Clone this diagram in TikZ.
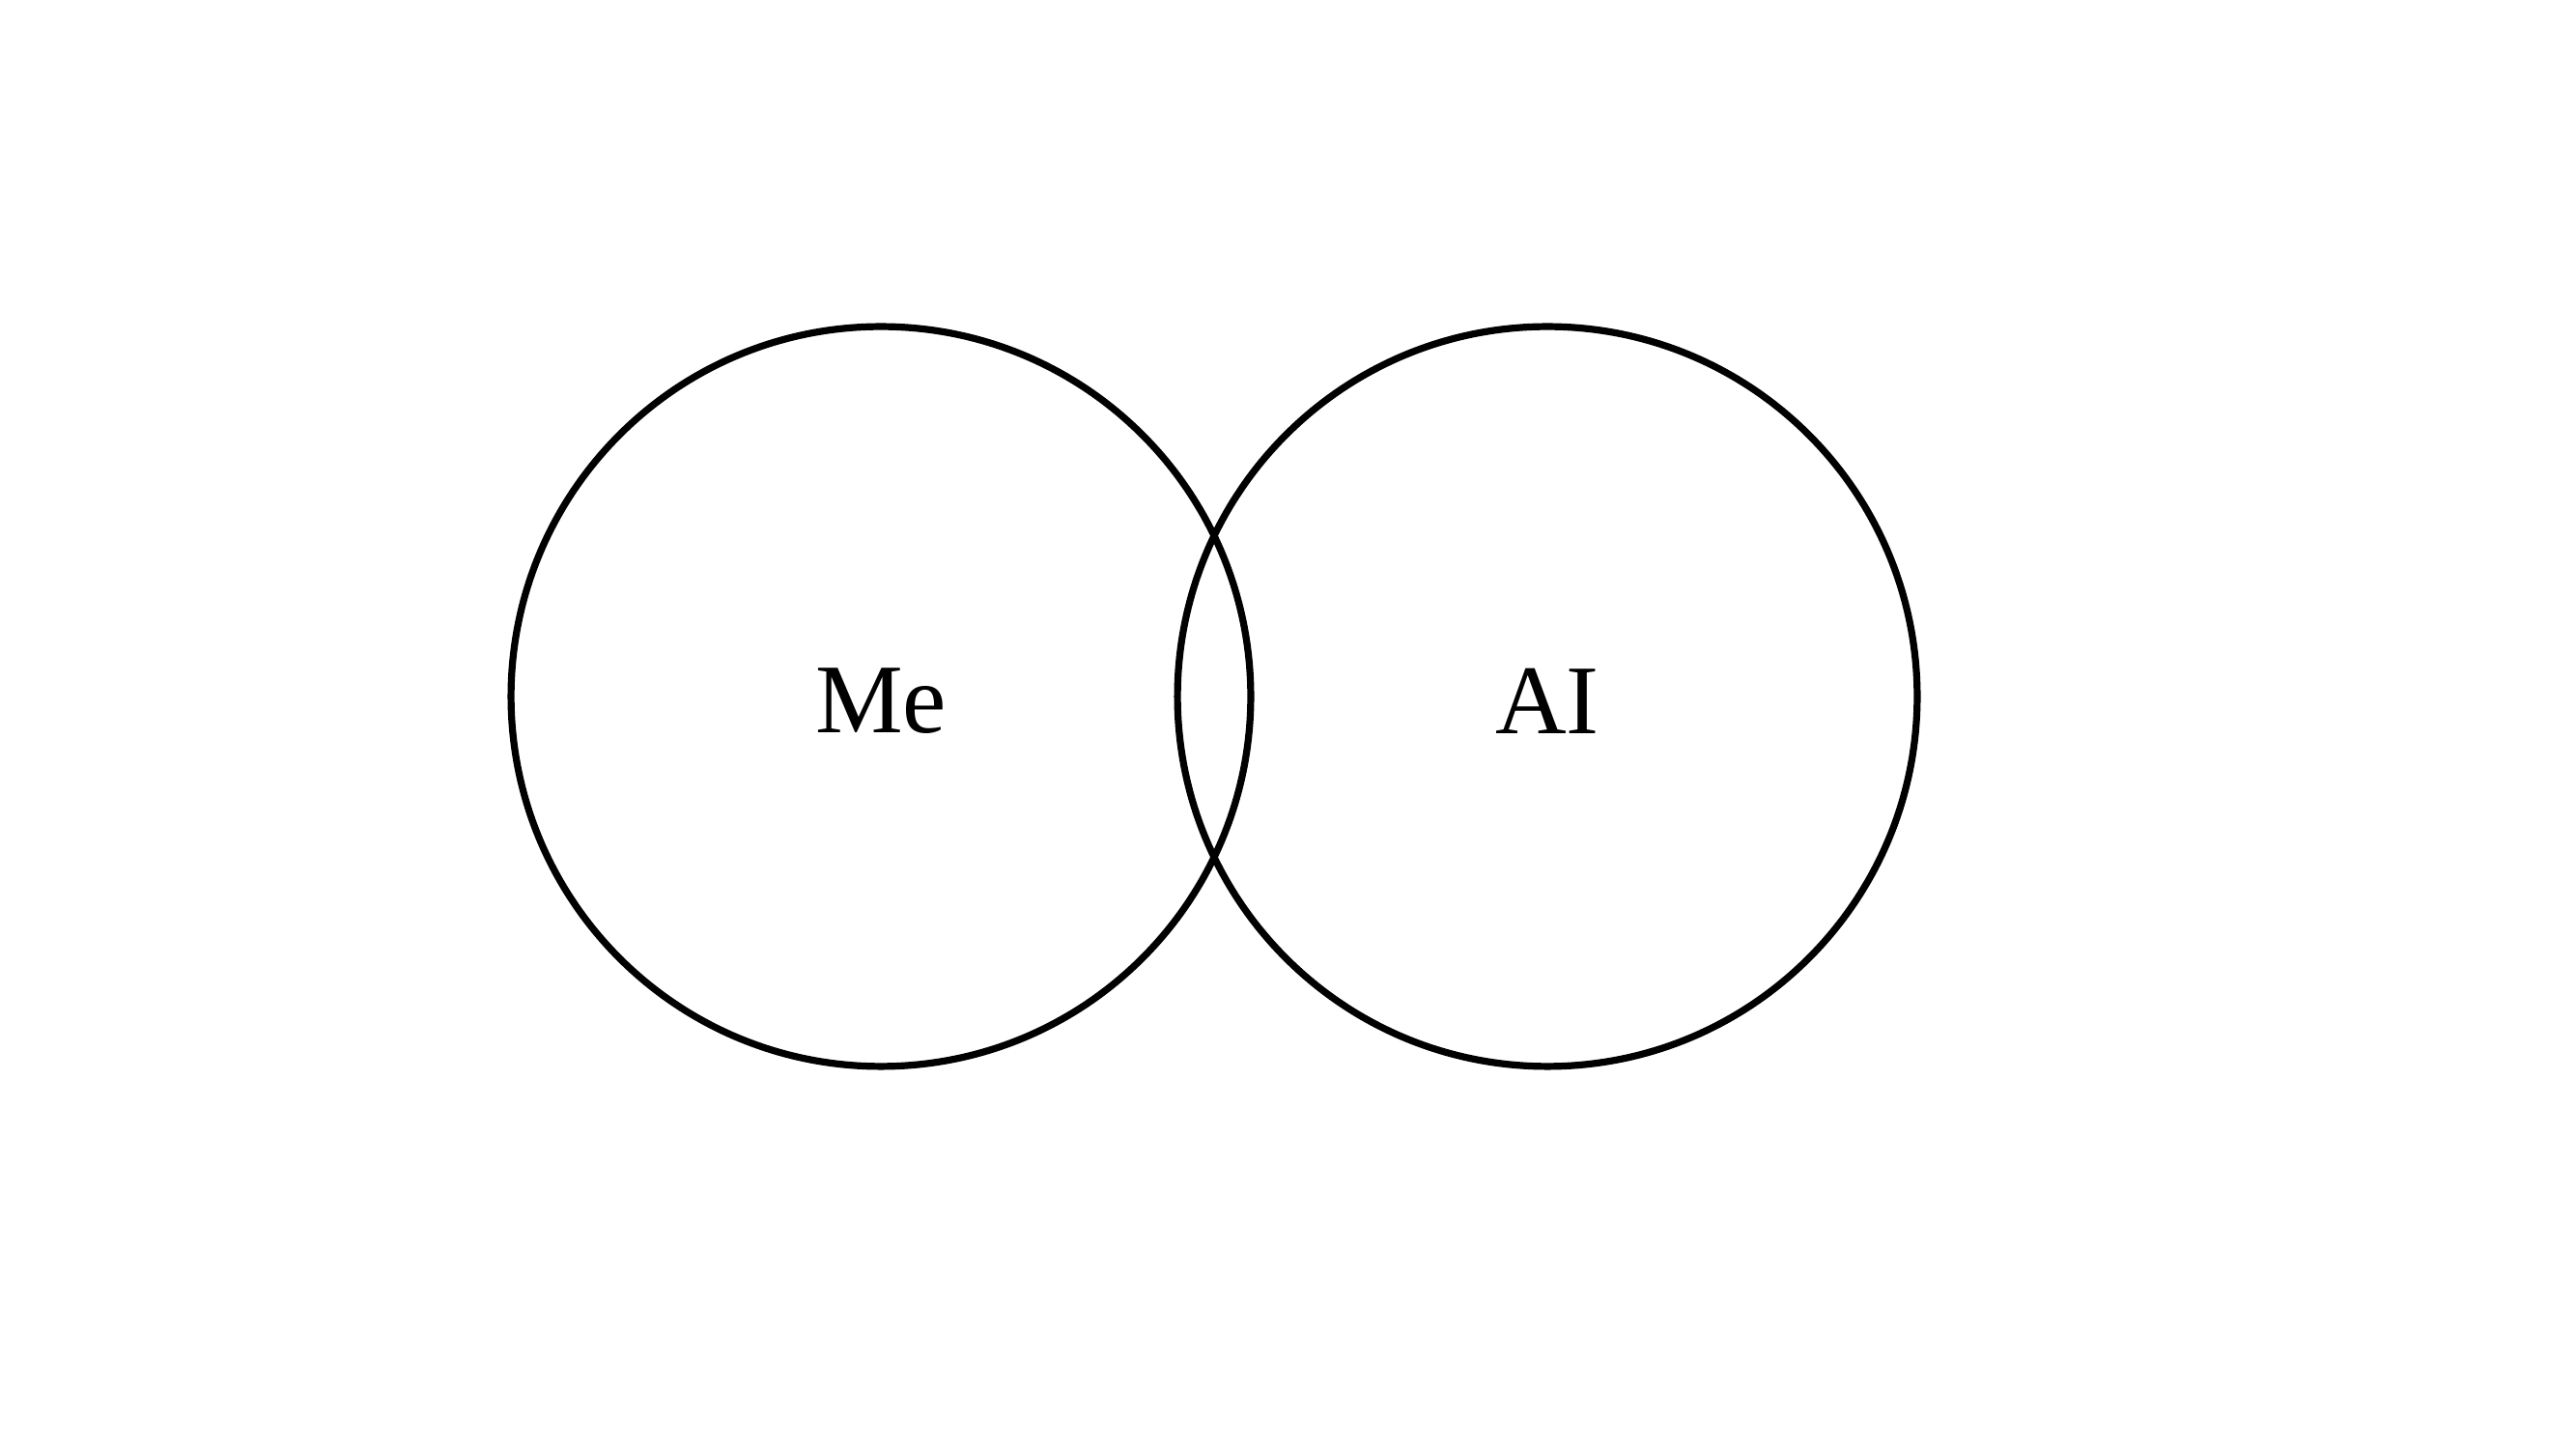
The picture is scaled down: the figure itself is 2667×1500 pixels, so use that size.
\documentclass[tikz,border=0pt]{standalone}
\usepackage{fontspec}
\setmainfont{Liberation Serif}
\begin{document}
\begin{tikzpicture}[x=0.01cm,y=0.01cm,
  ring/.style={draw=black, line width=0.072cm, circle, minimum size=7.654cm, inner sep=0pt},
  lbl/.style={font=\fontsize{29}{34}\selectfont}]
\useasboundingbox (0,0) rectangle (2667,1500);
\node[ring] (me) at (912,779) {};
\node[ring] (ai) at (1602,779) {};
\node[lbl] (metext) at (912,774) {Me};
\node[lbl] (aitext) at (1602,774) {AI};
\end{tikzpicture}
\end{document}
